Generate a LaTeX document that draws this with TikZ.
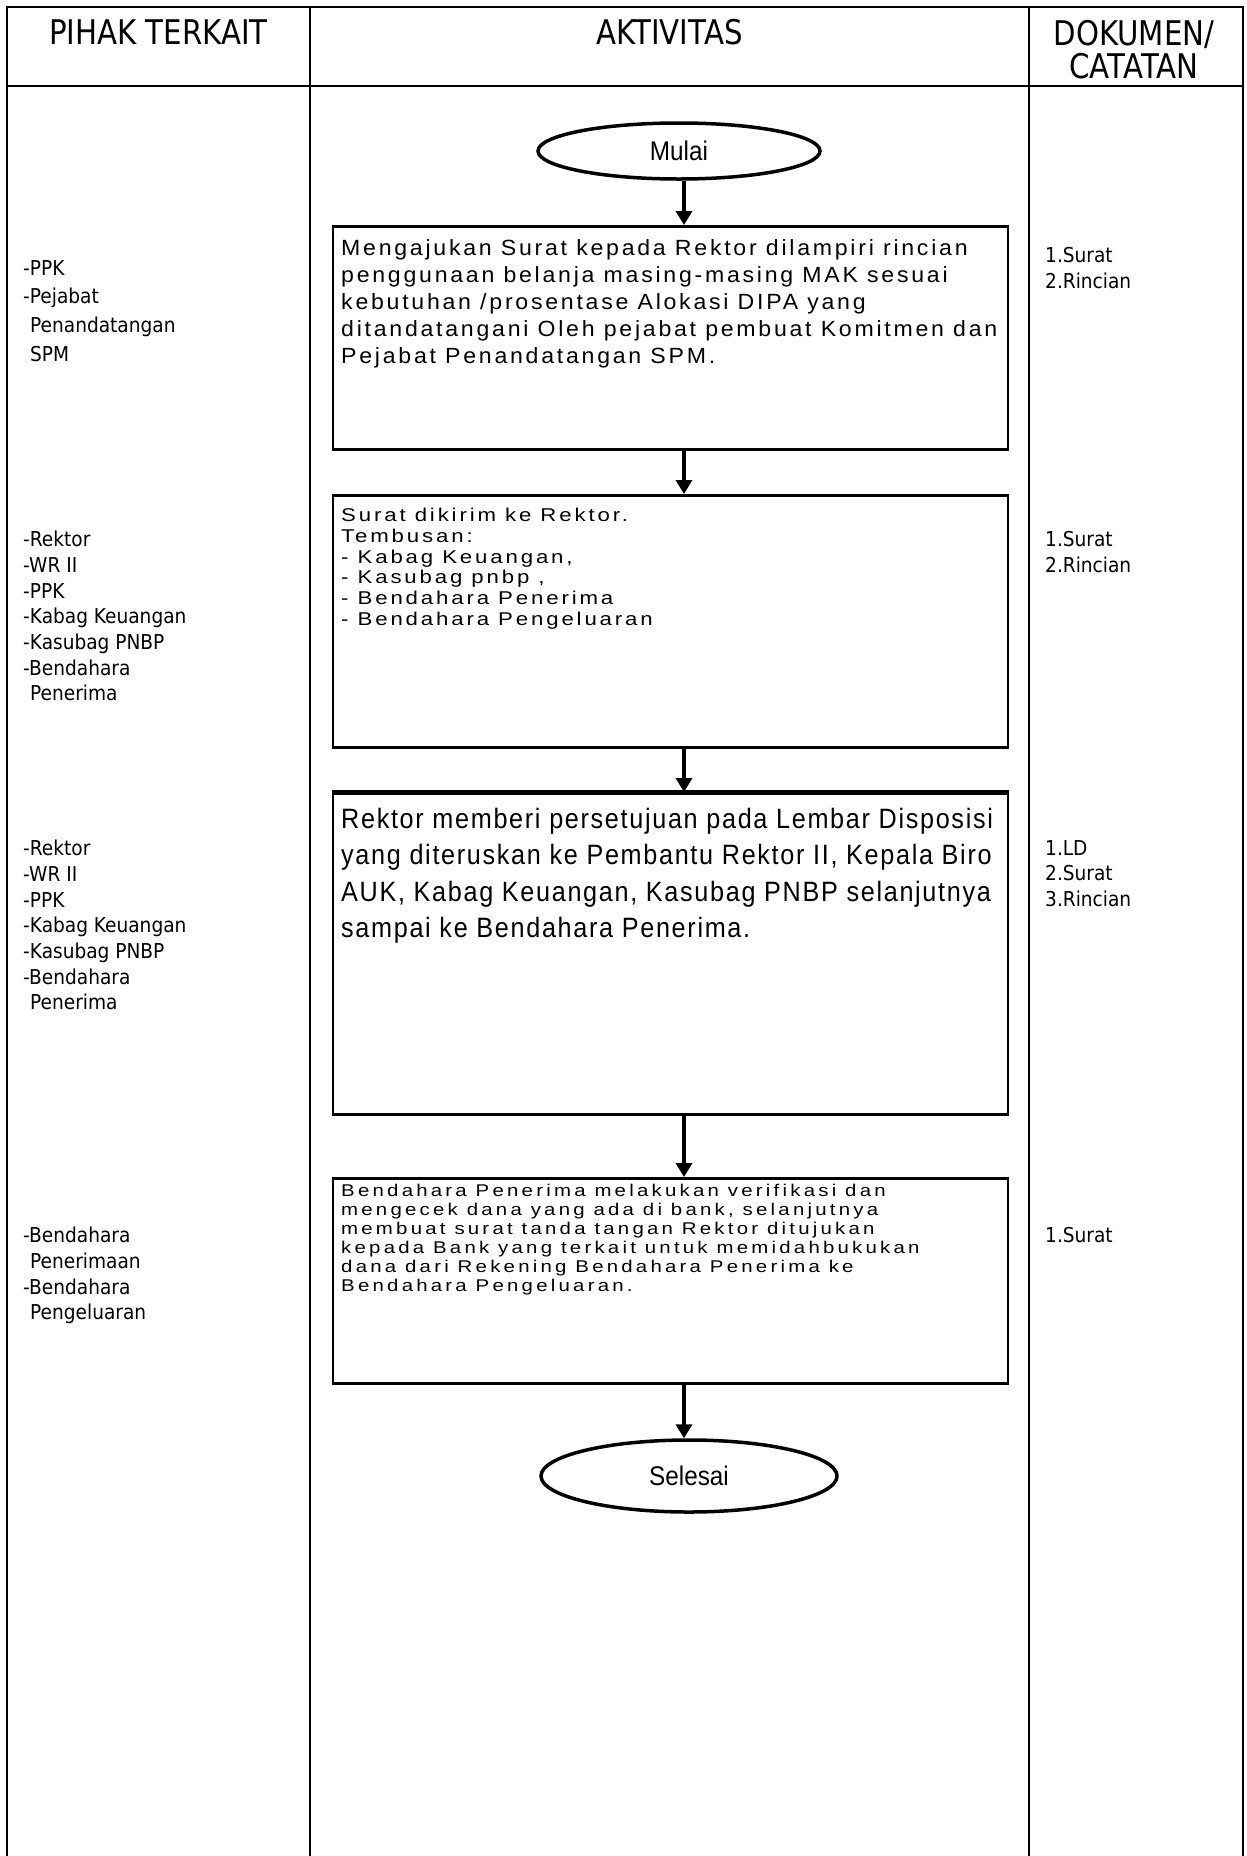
\documentclass[tikz,border=0pt]{standalone}
\usepackage{fontspec}
\usetikzlibrary{shapes.geometric,arrows.meta}
% fonts
\newfontfamily\hdrfont[FakeStretch=0.86]{DejaVu Sans}
\newfontfamily\colfont[FakeStretch=0.905]{DejaVu Sans}
\newfontfamily\termfont[FakeStretch=0.9]{Liberation Sans}
\newfontfamily\boxAfont[FakeStretch=1.05,LetterSpace=12.5]{Liberation Sans}
\newfontfamily\boxBfont[FakeStretch=1.2,LetterSpace=15.5]{Liberation Sans}
\newfontfamily\boxCfont[FakeStretch=0.9,LetterSpace=6]{Liberation Sans}
\newfontfamily\boxDfont[FakeStretch=1.2,LetterSpace=19]{Liberation Sans}
\begin{document}
\begin{tikzpicture}[x=1pt,y=-1pt,
  rule/.style={line width=2.8pt},
  hdr/.style={anchor=base,inner sep=0,font=\hdrfont\fontsize{34}{36}\selectfont},
  coltext/.style={anchor=north west,inner sep=0,align=left,font=\colfont\fontsize{20.5}{25.7}\selectfont},
  procbox/.style={draw,line width=2.5pt,anchor=north,minimum width=675pt,inner sep=0},
  term/.style={ellipse,draw,line width=3.5pt,inner sep=0,font=\termfont\fontsize{27}{29}\selectfont},
  boxtext/.style={anchor=north west,inner sep=0,align=left},
  flow/.style={line width=4.5pt,-{Triangle[width=16pt,length=14pt]}}]

% page
\fill[white] (0,0) rectangle (1247,1856);
\useasboundingbox (0,0) rectangle (1247,1856);

% table frame and columns
\draw[rule] (7,1856) -- (7,7) -- (1243,7) -- (1243,1856);
\draw[rule] (7,86) -- (1243,86);
\draw[rule] (310,7) -- (310,1856);
\draw[rule] (1029,7) -- (1029,1856);

% headers
\node[hdr] (h1) at (158.5,44) {PIHAK TERKAIT};
\node[hdr] (h2) at (669.5,44) {AKTIVITAS};
\node[hdr] (h3) at (1134,45) {DOKUMEN/};
\node[hdr] (h3b) at (1134,78) {CATATAN};

% flow column
\coordinate (axis) at (684,0);
\node[term,minimum width=282pt,minimum height=56pt] (mulai) at (679,151) {Mulai};

\node[procbox,minimum height=223pt] (b1) at (670.5,225) {};
\node[boxtext,font=\boxAfont\fontsize{22}{27}\selectfont] (t1) at (341,239.5)
  {Mengajukan Surat kepada Rektor dilampiri rincian\\
   penggunaan belanja masing-masing MAK sesuai\\
   kebutuhan /prosentase Alokasi DIPA yang\\
   ditandatangani Oleh pejabat pembuat Komitmen dan\\
   Pejabat Penandatangan SPM.};

\node[procbox,minimum height=252pt] (b2) at (670.5,494) {};
\node[boxtext,font=\boxBfont\fontsize{18.5}{20.7}\selectfont] (t2) at (341,508)
  {Surat dikirim ke Rektor.\\
   Tembusan:\\
   - Kabag Keuangan,\\
   - Kasubag pnbp ,\\
   - Bendahara Penerima\\
   - Bendahara Pengeluaran};

\node[procbox,minimum height=321pt] (b3) at (670.5,792) {};
\draw[line width=4.5pt] (b3.north west) -- (b3.north east);
\node[boxtext,font=\boxCfont\fontsize{28}{36.3}\selectfont] (t3) at (341,808)
  {Rektor memberi persetujuan pada Lembar Disposisi\\
   yang diteruskan ke Pembantu Rektor II, Kepala Biro\\
   AUK, Kabag Keuangan, Kasubag PNBP selanjutnya\\
   sampai ke Bendahara Penerima.};

\node[procbox,minimum height=205pt] (b4) at (670.5,1177) {};
\node[boxtext,font=\boxDfont\fontsize{17}{19}\selectfont] (t4) at (341,1184)
  {Bendahara Penerima melakukan verifikasi dan\\
   mengecek dana yang ada di bank, selanjutnya\\
   membuat surat tanda tangan Rektor ditujukan\\
   kepada Bank yang terkait untuk memidahbukukan\\
   dana dari Rekening Bendahara Penerima ke\\
   Bendahara Pengeluaran.};

\node[term,minimum width=296pt,minimum height=72pt] (selesai) at (689,1476) {Selesai};

% connectors
\draw[flow] (mulai.south -| axis) -- (b1.north -| axis);
\draw[flow] (b1.south -| axis) -- (b2.north -| axis);
\draw[flow] (b2.south -| axis) -- (b3.north -| axis);
\draw[flow] (b3.south -| axis) -- (b4.north -| axis);
\draw[flow] (b4.south -| axis) -- (selesai.north -| axis);

% parties involved
\node[coltext,font=\colfont\fontsize{20.5}{28.8}\selectfont] (p1) at (23,260)
  {-PPK\\-Pejabat\\\hspace*{7pt}Penandatangan\\\hspace*{7pt}SPM};
\node[coltext] (p2) at (23,531) {-Rektor\\-WR II\\-PPK\\-Kabag Keuangan\\-Kasubag PNBP\\-Bendahara\\\hspace*{7pt}Penerima};
\node[coltext] (p3) at (23,840) {-Rektor\\-WR II\\-PPK\\-Kabag Keuangan\\-Kasubag PNBP\\-Bendahara\\\hspace*{7pt}Penerima};
\node[coltext] (p4) at (23,1227) {-Bendahara\\\hspace*{7pt}Penerimaan\\-Bendahara\\\hspace*{7pt}Pengeluaran};

% documents / records
\node[coltext] (d1) at (1045,247) {1.Surat\\2.Rincian};
\node[coltext] (d2) at (1045,531) {1.Surat\\2.Rincian};
\node[coltext] (d3) at (1045,840) {1.LD\\2.Surat\\3.Rincian};
\node[coltext] (d4) at (1045,1227) {1.Surat};
\end{tikzpicture}
\end{document}
